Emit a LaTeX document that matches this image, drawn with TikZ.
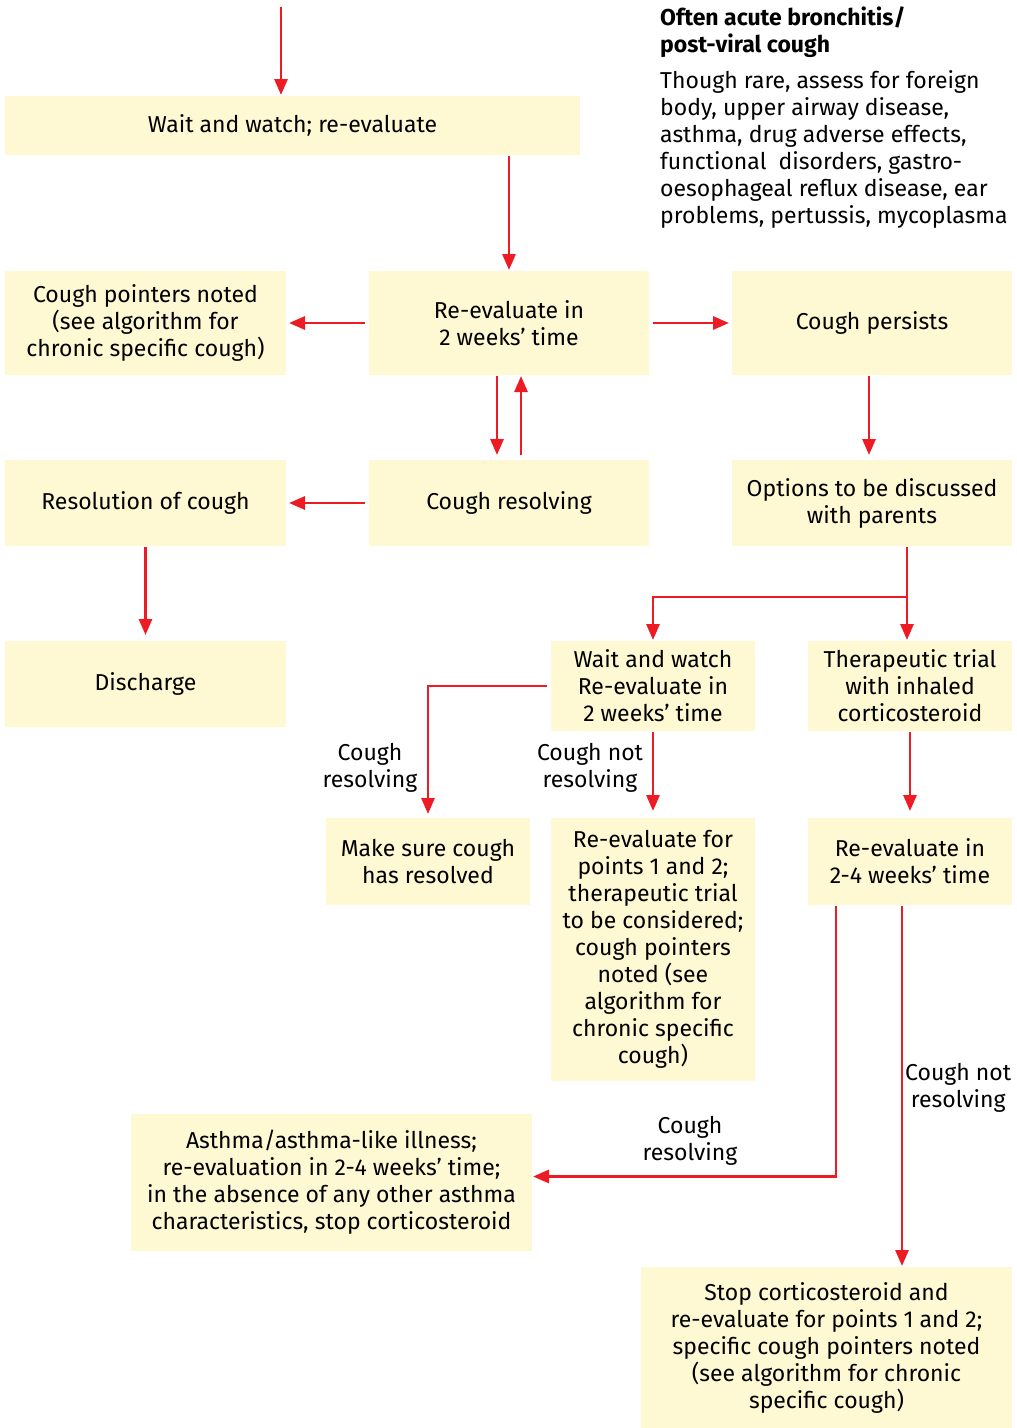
\documentclass[tikz,border=0pt]{standalone}
\usepackage{fontspec}
\setmainfont{Fira Sans}
\usepackage{tikz}
\usetikzlibrary{arrows.meta}

\definecolor{boxfill}{HTML}{FEF9D3}
\definecolor{flowred}{HTML}{ED1C24}

\tikzset{
  box/.style={fill=boxfill, inner sep=0pt, outer sep=1pt, align=center,
    font=\fontsize{23}{27}\selectfont},
  flow/.style={draw=flowred, line width=2.9pt, -{Triangle[length=16pt,width=13pt]}},
  link/.style={draw=flowred, line width=2.9pt},
  lbl/.style={align=center, inner sep=0pt, font=\fontsize{23}{27}\selectfont},
}

\begin{document}
\begin{tikzpicture}[x=1pt, y=-1pt]
        \useasboundingbox (0,0) rectangle (1017,1428);
        % boxes
        \node[box, minimum width=575, minimum height=59] (wait) at (292.5,125.5) {Wait and watch; re-evaluate};
        \node[box, minimum width=281, minimum height=104] (pointers) at (145.5,323) {Cough pointers noted\\(see algorithm for\\chronic specific cough)};
        \node[box, minimum width=280, minimum height=104] (reev) at (509,323) {Re-evaluate in\\2 weeks' time};
        \node[box, minimum width=280, minimum height=104] (persists) at (872,323) {Cough persists};
        \node[box, minimum width=281, minimum height=86] (resolution) at (145.5,503) {Resolution of cough};
        \node[box, minimum width=280, minimum height=86] (resolving) at (509,503) {Cough resolving};
        \node[box, minimum width=280, minimum height=86] (options) at (872,503) {Options to be discussed\\with parents};
        \node[box, minimum width=281, minimum height=86] (discharge) at (145.5,684) {Discharge};
        \node[box, minimum width=204, minimum height=90] (watch) at (653,686) {Wait and watch\\Re-evaluate in\\2 weeks' time};
        \node[box, minimum width=204, minimum height=90] (trial) at (910,686) {Therapeutic trial\\with inhaled\\corticosteroid};
        \node[box, minimum width=204, minimum height=87] (sure) at (428,861.5) {Make sure cough\\has resolved};
        \node[box, minimum width=204, minimum height=263] (points) at (653,949.5) {Re-evaluate for\\points 1 and 2;\\therapeutic trial\\to be considered;\\cough pointers\\noted (see\\algorithm for\\chronic specific\\cough)};
        \node[box, minimum width=204, minimum height=87] (reev24) at (910,861.5) {Re-evaluate in\\2-4 weeks' time};
        \node[box, minimum width=401, minimum height=137] (asthma) at (331.5,1182.5) {Asthma/asthma-like illness;\\re-evaluation in 2-4 weeks' time;\\in the absence of any other asthma\\characteristics, stop corticosteroid};
        \node[box, minimum width=371, minimum height=161] (stop) at (826.5,1347.5) {Stop corticosteroid and\\re-evaluate for points 1 and 2;\\specific cough pointers noted\\(see algorithm for chronic\\specific cough)};
        % note
        \node[anchor=north west, align=left, inner sep=0pt, font=\fontsize{23}{27}\selectfont] (note) at (660,7)
          {\textbf{Often acute bronchitis/}\\\textbf{post-viral cough}\\[9pt]Though rare, assess for foreign\\body, upper airway disease,\\asthma, drug adverse effects,\\functional\ \ disorders, gastro-\\oesophageal reflux disease, ear\\problems, pertussis, mycoplasma};
        % labels
        \node[lbl] (lresA) at (370,768) {Cough\\resolving};
        \node[lbl] (lnotA) at (590,768) {Cough not\\resolving};
        \node[lbl] (lresB) at (690,1141) {Cough\\resolving};
        \node[lbl, anchor=west] (lnotB) at (905,1088) {Cough not\\resolving};
        % connectors
        \coordinate (entry) at (281,7);
        \coordinate (split) at (907,597);
        \draw[flow] (entry) -- (entry |- wait.north);
        \draw[flow] (wait.south -| reev.north) -- (reev.north);
        \draw[flow, shorten <=3pt, shorten >=2pt] (reev.west) -- (pointers.east);
        \draw[flow, shorten <=3pt, shorten >=2pt] (reev.east) -- (persists.west);
        \draw[flow, shorten >=4pt] ([xshift=-12pt]reev.south) -- ([xshift=-12pt]resolving.north);
        \draw[flow, shorten <=4pt] ([xshift=12pt]resolving.north) -- ([xshift=12pt]reev.south);
        \draw[flow, shorten <=3pt, shorten >=2pt] (resolving.west) -- (resolution.east);
        \draw[flow, shorten >=4pt] ([xshift=-3pt]persists.south) -- ([xshift=-3pt]options.north);
        \draw[flow, shorten >=5pt] (resolution) -- (discharge);
        \draw[link] (options.south -| split) -- (split);
        \draw[flow] (split) -| (watch.north);
        \draw[flow] (split) -- (split |- trial.north);
        \draw[flow, shorten <=3pt, shorten >=3pt] (watch.west) -| (sure.north);
        \draw[flow, shorten >=6pt] (watch.south) -- (points.north);
        \draw[flow, shorten >=6pt] (trial) -- (reev24);
        \draw[flow] ([xshift=-74pt]reev24.south) |- ([yshift=6pt]asthma.east);
        \draw[flow] ([xshift=-8pt]reev24.south) -- ([xshift=-8pt]reev24.south |- stop.north);
      \end{tikzpicture}
\end{document}
